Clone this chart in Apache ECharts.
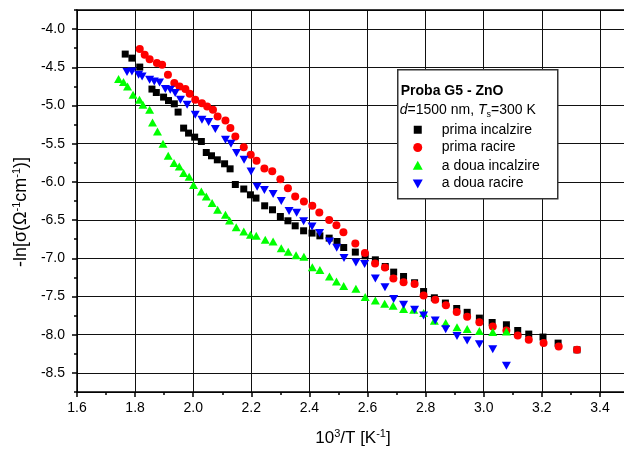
<!DOCTYPE html>
<html>
<head>
<meta charset="utf-8">
<script src="https://cdn.jsdelivr.net/npm/echarts@6/dist/echarts.min.js"></script>
<style>
html, body { margin: 0; padding: 0; background: #fff; }
#chart { width: 624px; height: 449px; }
</style>
</head>
<body>
<div id="chart"></div>
<script>
// Conductivity of ZnO film (sample G5): -ln(sigma) vs 1000/T for two heating/cooling cycles.
const primaIncalzire = [
  [1.766,-4.327],[1.789,-4.380],[1.816,-4.497],[1.858,-4.785],[1.873,-4.830],[1.898,-4.890],
  [1.915,-4.935],[1.935,-4.978],[1.948,-5.086],[1.967,-5.296],[1.984,-5.361],[2.005,-5.414],
  [2.028,-5.471],[2.045,-5.615],[2.063,-5.658],[2.083,-5.711],[2.108,-5.763],[2.127,-5.829],
  [2.145,-6.034],[2.174,-6.093],[2.197,-6.169],[2.216,-6.212],[2.246,-6.313],[2.273,-6.365],
  [2.300,-6.453],[2.326,-6.509],[2.351,-6.575],[2.380,-6.640],[2.409,-6.670],[2.436,-6.706],
  [2.468,-6.736],[2.495,-6.780],[2.518,-6.859],[2.558,-6.919],[2.592,-6.967],[2.627,-7.020],
  [2.661,-7.107],[2.690,-7.181],[2.724,-7.238],[2.762,-7.320],[2.793,-7.435],[2.830,-7.517],
  [2.868,-7.586],[2.907,-7.657],[2.943,-7.707],[2.985,-7.783],[3.029,-7.840],[3.078,-7.870],
  [3.117,-7.945],[3.155,-7.992],[3.204,-8.031],[3.256,-8.110],[3.321,-8.198]
];
const primaRacire = [
  [1.816,-4.262],[1.833,-4.336],[1.850,-4.393],[1.875,-4.445],[1.893,-4.467],[1.913,-4.598],
  [1.935,-4.707],[1.953,-4.751],[1.973,-4.785],[1.988,-4.847],[2.007,-4.925],[2.030,-4.969],
  [2.048,-5.013],[2.068,-5.056],[2.084,-5.144],[2.111,-5.196],[2.128,-5.296],[2.145,-5.406],
  [2.174,-5.545],[2.198,-5.645],[2.218,-5.724],[2.245,-5.826],[2.272,-5.859],[2.300,-5.966],
  [2.326,-6.084],[2.351,-6.191],[2.381,-6.257],[2.410,-6.312],[2.434,-6.399],[2.468,-6.499],
  [2.493,-6.568],[2.517,-6.660],[2.558,-6.806],[2.591,-6.932],[2.626,-7.068],[2.660,-7.122],
  [2.689,-7.266],[2.724,-7.312],[2.762,-7.338],[2.793,-7.487],[2.833,-7.543],[2.870,-7.615],
  [2.907,-7.704],[2.943,-7.766],[2.985,-7.838],[3.031,-7.893],[3.078,-7.945],[3.117,-8.010],
  [3.155,-8.067],[3.206,-8.110],[3.258,-8.154],[3.321,-8.198]
];
const aDouaIncalzire = [
  [1.743,-4.654],[1.760,-4.694],[1.774,-4.751],[1.793,-4.860],[1.815,-4.925],[1.827,-4.991],
  [1.850,-5.056],[1.860,-5.223],[1.877,-5.340],[1.896,-5.501],[1.914,-5.658],[1.934,-5.754],
  [1.952,-5.798],[1.967,-5.885],[1.986,-5.933],[2.001,-6.042],[2.028,-6.126],[2.045,-6.191],
  [2.065,-6.277],[2.084,-6.365],[2.111,-6.431],[2.125,-6.505],[2.148,-6.592],[2.174,-6.649],
  [2.197,-6.692],[2.217,-6.705],[2.248,-6.758],[2.275,-6.780],[2.303,-6.869],[2.327,-6.915],
  [2.354,-6.961],[2.381,-6.980],[2.410,-7.118],[2.436,-7.154],[2.469,-7.238],[2.493,-7.304],
  [2.518,-7.364],[2.560,-7.397],[2.592,-7.508],[2.627,-7.552],[2.659,-7.596],[2.688,-7.622],
  [2.724,-7.665],[2.759,-7.674],[2.793,-7.717],[2.830,-7.818],[2.869,-7.848],[2.908,-7.903],
  [2.943,-7.927],[2.985,-7.952],[3.031,-7.965],[3.078,-7.958]
];
const aDouaRacire = [
  [1.772,-4.563],[1.789,-4.555],[1.812,-4.598],[1.824,-4.620],[1.850,-4.664],[1.866,-4.686],
  [1.884,-4.699],[1.904,-4.785],[1.921,-4.795],[1.938,-4.838],[1.956,-4.925],[1.979,-4.991],
  [2.007,-5.122],[2.030,-5.187],[2.053,-5.217],[2.076,-5.309],[2.111,-5.449],[2.130,-5.501],
  [2.149,-5.623],[2.175,-5.711],[2.199,-5.864],[2.220,-6.064],[2.245,-6.107],[2.275,-6.160],
  [2.303,-6.250],[2.330,-6.382],[2.356,-6.404],[2.380,-6.516],[2.409,-6.584],[2.435,-6.670],
  [2.469,-6.780],[2.494,-6.863],[2.519,-6.997],[2.560,-7.055],[2.590,-7.076],[2.627,-7.266],
  [2.660,-7.380],[2.690,-7.534],[2.724,-7.609],[2.762,-7.674],[2.793,-7.749],[2.833,-7.814],
  [2.869,-7.929],[2.908,-8.018],[2.943,-8.077],[2.985,-8.126],[3.031,-8.191],[3.078,-8.407]
];

const seriesNames = ['prima incalzire', 'prima racire', 'a doua incalzire', 'a doua racire'];
const legendTitle = 'Proba G5 - ZnO';

const FONT = 'Liberation Sans, Arial, Helvetica, sans-serif';
const INV_TRIANGLE = 'path://M0,0 L10,0 L5,9 Z';

const sup = { fontSize: 11, verticalAlign: 'top', lineHeight: 20, fontFamily: FONT };

const chart = echarts.init(document.getElementById('chart'), null, { renderer: 'canvas' });

// legend box drawn as a group of graphic elements
const box = { left: 397, top: 69, width: 160, height: 129 };
const keyX = 20;   // symbol centre, relative to box
const textX = 44;  // label start, relative to box
const rowY = [60, 77.7, 96, 113.7];
const Z = 100;
const keyMarks = [
  { type: 'rect', z: Z, shape: { x: keyX - 4, y: rowY[0] - 4, width: 8, height: 8 }, style: { fill: '#000' } },
  { type: 'circle', z: Z, shape: { cx: keyX, cy: rowY[1], r: 4.5 }, style: { fill: '#ff0000' } },
  { type: 'polygon', z: Z, shape: { points: [[keyX - 5, rowY[2] + 4], [keyX + 5, rowY[2] + 4], [keyX, rowY[2] - 5]] }, style: { fill: '#00ff00' } },
  { type: 'polygon', z: Z, shape: { points: [[keyX - 5, rowY[3] - 4], [keyX + 5, rowY[3] - 4], [keyX, rowY[3] + 5]] }, style: { fill: '#0000ff' } }
];
const keyTexts = seriesNames.map((n, i) => ({
  type: 'text', z: Z, x: textX, y: rowY[i],
  style: { text: n, fontSize: 14, fontFamily: FONT, fill: '#000', verticalAlign: 'middle' }
}));

const option = {
  animation: false,
  backgroundColor: '#fff',
  grid: { left: 77, top: 10, width: 552, height: 382, containLabel: false, outerBoundsMode: 'none' },
  xAxis: [
    {
      type: 'value', min: 1.6, max: 3.5, interval: 0.2, position: 'bottom',
      name: '10{sup|3}/T [K{sup|-1}]', nameLocation: 'middle', nameGap: 36,
      nameTextStyle: { fontSize: 17, fontFamily: FONT, color: '#000', rich: { sup: sup } },
      axisLine: { show: true, onZero: false, lineStyle: { color: '#000', width: 1.5 } },
      axisTick: { show: true, inside: false, length: 5, lineStyle: { color: '#000', width: 1.5 } },
      axisLabel: { show: true, margin: 9, fontSize: 14, fontFamily: FONT, color: '#000',
        formatter: v => (v > 3.45 ? '' : v.toFixed(1)) },
      splitLine: { show: true, lineStyle: { color: '#111', width: 1 } }
    },
    {
      type: 'value', min: 1.6, max: 3.5, interval: 0.1, position: 'bottom',
      axisLine: { show: false, onZero: false },
      axisTick: { show: true, inside: false, length: 3, lineStyle: { color: '#000', width: 1.5 } },
      axisLabel: { show: false }, splitLine: { show: false }
    },
    {
      type: 'value', min: 1.6, max: 3.5, position: 'top',
      axisLine: { show: true, onZero: false, lineStyle: { color: '#000', width: 1.5 } },
      axisTick: { show: false }, axisLabel: { show: false }, splitLine: { show: false }
    }
  ],
  yAxis: [
    {
      type: 'value', min: -8.75, max: -3.75, splitNumber: 10, position: 'left',
      name: '-ln[σ(Ω{sup|-1}cm{sup|-1})]', nameLocation: 'middle', nameGap: 40, nameRotate: 90,
      nameTextStyle: { fontSize: 18, fontFamily: FONT, color: '#000', rich: { sup: sup },
        padding: [0, 22, 0, 0] },
      axisLine: { show: true, onZero: false, lineStyle: { color: '#000', width: 1.5 } },
      axisTick: { show: true, inside: false, length: 5, lineStyle: { color: '#000', width: 1.5 } },
      axisLabel: { show: true, margin: 12, fontSize: 14, fontFamily: FONT, color: '#000',
        showMinLabel: false, showMaxLabel: false,
        formatter: v => (Math.abs(v * 2 - Math.round(v * 2)) < 1e-6 ? v.toFixed(1) : '') },
      splitLine: { show: true, lineStyle: { color: '#111', width: 1 } }
    },
    {
      type: 'value', min: -8.75, max: -3.75, interval: 0.25, position: 'left',
      axisLine: { show: false, onZero: false },
      axisTick: { show: true, inside: false, length: 3, lineStyle: { color: '#000', width: 1.5 } },
      axisLabel: { show: false }, splitLine: { show: false }
    },
    {
      type: 'value', min: -8.75, max: -3.75, position: 'right',
      axisLine: { show: true, onZero: false, lineStyle: { color: '#000', width: 1.5 } },
      axisTick: { show: false }, axisLabel: { show: false }, splitLine: { show: false }
    }
  ],
  series: [
    { name: seriesNames[0], type: 'scatter', data: primaIncalzire, symbol: 'rect', symbolSize: 7,
      itemStyle: { color: '#000', opacity: 1 } },
    { name: seriesNames[1], type: 'scatter', data: primaRacire, symbol: 'circle', symbolSize: 8,
      itemStyle: { color: '#ff0000', opacity: 1 } },
    { name: seriesNames[2], type: 'scatter', data: aDouaIncalzire, symbol: 'triangle', symbolSize: [9, 8],
      itemStyle: { color: '#00ff00', opacity: 1 } },
    { name: seriesNames[3], type: 'scatter', data: aDouaRacire, symbol: INV_TRIANGLE, symbolSize: [9, 8],
      itemStyle: { color: '#0000ff', opacity: 1 } }
  ],
  graphic: [{
    type: 'group', left: box.left, top: box.top, z: Z,
    children: [
      { type: 'rect', z: Z, shape: { x: 0, y: 0, width: box.width, height: box.height },
        style: { fill: '#fff', stroke: '#333', lineWidth: 1.5 } },
      { type: 'text', z: Z, x: 3, y: 21.7,
        style: { text: legendTitle, font: 'bold 14px ' + FONT, fill: '#000', verticalAlign: 'middle' } },
      { type: 'text', z: Z, x: 2, y: 40.3,
        style: {
          text: '{i|d}=1500 nm, {i|T}{sub|s}=300 K',
          fontSize: 14, fontFamily: FONT, fill: '#000', verticalAlign: 'middle',
          rich: {
            i: { fontSize: 14, fontStyle: 'italic', fontFamily: FONT, lineHeight: 18 },
            sub: { fontSize: 9, fontFamily: FONT, verticalAlign: 'bottom', lineHeight: 18 }
          }
        } },
      ...keyMarks,
      ...keyTexts
    ]
  }]
};

chart.setOption(option);
</script>
</body>
</html>
